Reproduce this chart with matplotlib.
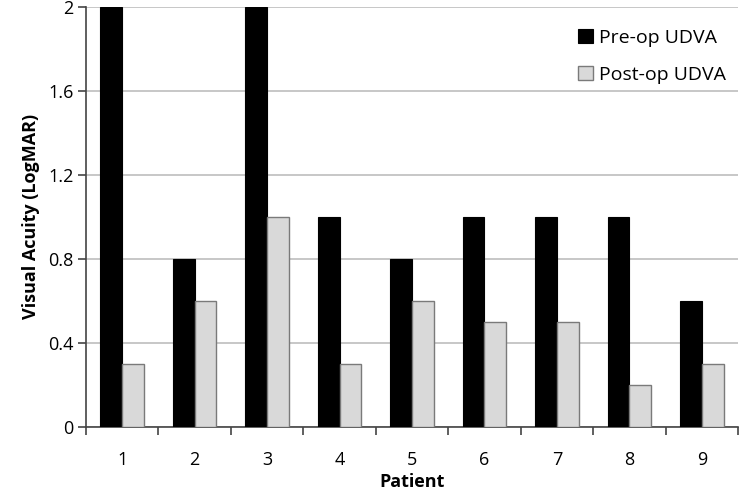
import numpy as np
import matplotlib.pyplot as plt

patients = ['1', '2', '3', '4', '5', '6', '7', '8', '9']
pre_op = [2.0, 0.8, 2.0, 1.0, 0.8, 1.0, 1.0, 1.0, 0.6]
post_op = [0.3, 0.6, 1.0, 0.3, 0.6, 0.5, 0.5, 0.2, 0.3]
yticks = [0, 0.4, 0.8, 1.2, 1.6, 2]
ylabels = ['0', '0.4', '0.8', '1.2', '1.6', '2']

plt.rcParams['font.family'] = ['Open Sans', 'DejaVu Sans']

fig = plt.figure(figsize=(7.41, 4.93), dpi=100)
ax = fig.add_axes([0.116, 0.134, 0.880, 0.852])

x = np.arange(len(patients))
w = 0.3
ax.bar(x - w/2, pre_op, w, color='black', edgecolor='black', linewidth=0.8,
       label='Pre-op UDVA', zorder=3)
ax.bar(x + w/2, post_op, w, color='#d9d9d9', edgecolor='#7a7a7a', linewidth=1.0,
       label='Post-op UDVA', zorder=3)

ax.set_xlim(-0.5, len(patients) - 0.5)
ax.set_ylim(0, 2)
ax.set_yticks(yticks)
ax.set_yticklabels(ylabels, fontsize=13)
ax.set_xticks(x)
ax.set_xticklabels(patients, fontsize=13)
ax.tick_params(axis='x', length=0, pad=17)
ax.set_xticks(np.arange(len(patients) + 1) - 0.5, minor=True)
ax.tick_params(axis='x', which='minor', length=6, width=1.2, color='#444444', direction='out')
ax.tick_params(axis='y', length=6, width=1.2, color='#444444', direction='out', pad=3)

ax.yaxis.grid(True, color='#bdbdbd', linewidth=1.2, zorder=0)
for s in ['top', 'right']:
    ax.spines[s].set_visible(False)
for s in ['left', 'bottom']:
    ax.spines[s].set_color('#444444')
    ax.spines[s].set_linewidth(1.2)

ax.set_ylabel('Visual Acuity (LogMAR)', fontsize=13, fontweight='bold', labelpad=6)
ax.set_xlabel('Patient', fontsize=13, fontweight='bold', labelpad=3)

ax.legend(loc='upper right', bbox_to_anchor=(1.0, 0.975), frameon=False,
          fontsize=14, handlelength=0.75, handleheight=0.75, handletextpad=0.35,
          labelspacing=0.95, borderaxespad=0.2)

fig.savefig('out.png', dpi=100)
